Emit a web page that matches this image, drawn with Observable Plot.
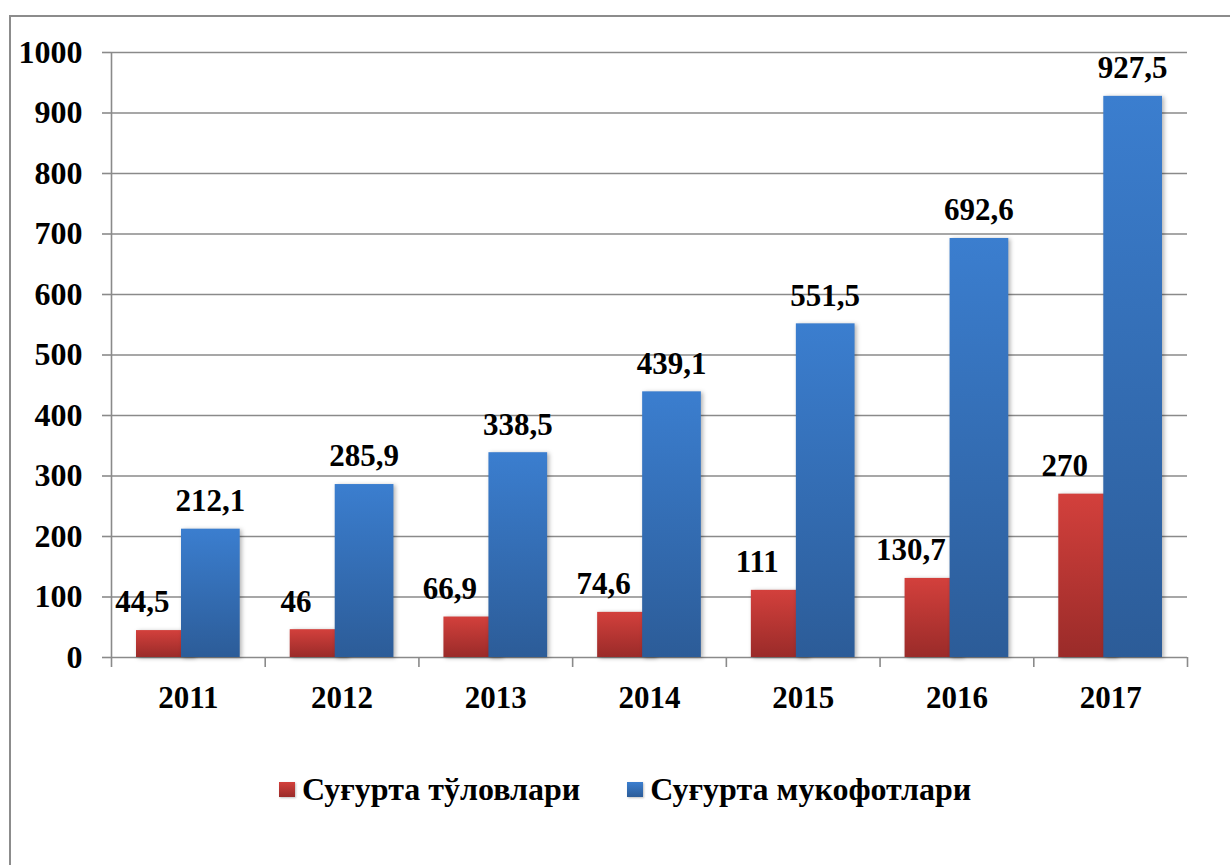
<!DOCTYPE html>
<html>
<head>
<meta charset="utf-8">
<script src="https://cdn.jsdelivr.net/npm/d3@7"></script>
<script src="https://cdn.jsdelivr.net/npm/@observablehq/plot@0.6"></script>
<style>
  html, body { margin: 0; padding: 0; background: #fff; overflow: hidden; width: 1230px; height: 865px; }
  #frame { position: absolute; left: 9px; top: 15px; width: 1300px; height: 900px; border: 2px solid #8c8c8c; box-sizing: border-box; }
  #chart { position: absolute; left: 0; top: 0; }
  #legend { position: absolute; left: 279px; top: 773px; display: flex; align-items: center; font-family: 'Liberation Serif', 'Times New Roman', serif; font-weight: bold; font-size: 32px; line-height: 32px; color: #000; }
  .item { display: flex; align-items: center; }
  .sw { width: 16px; height: 15px; margin-right: 7px; box-shadow: 1px 1px 2px rgba(0,0,0,0.25); }
  svg g[aria-label="bar"] rect { filter: drop-shadow(2px 1px 2px rgba(0,0,0,0.3)); }
</style>
</head>
<body>
<div id="frame"></div>
<div id="chart"></div>
<div id="legend"></div>
<script>
const years = ["2011", "2012", "2013", "2014", "2015", "2016", "2017"];
const payments = [44.5, 46, 66.9, 74.6, 111, 130.7, 270];
const premiums = [212.1, 285.9, 338.5, 439.1, 551.5, 692.6, 927.5];
const seriesNames = ["Суғурта тўловлари", "Суғурта мукофотлари"];
const yTicks = [0, 100, 200, 300, 400, 500, 600, 700, 800, 900, 1000];

const redData = years.map((y, i) => ({year: y, value: payments[i], series: seriesNames[0]}));
const blueData = years.map((y, i) => ({year: y, value: premiums[i], series: seriesNames[1]}));
const fmt = v => String(v).replace(".", ",");

const W = 1230, H = 730, mL = 111, mR = 43;
const bw = (W - mL - mR) / years.length;
const gridColor = "#8a8a8a";

const chart = Plot.plot({
  width: W, height: H,
  marginLeft: mL, marginRight: mR, marginTop: 52, marginBottom: 73,
  style: {fontFamily: "'Liberation Serif', 'Times New Roman', serif", fontWeight: "bold", fontSize: "32px", color: "#000", background: "transparent", overflow: "visible"},
  x: {domain: years, padding: 0, round: false, label: null},
  y: {domain: [0, 1000], label: null},
  marks: [
    Plot.gridY(yTicks, {stroke: gridColor, strokeOpacity: 1, strokeWidth: 1.6}),
    Plot.axisY(yTicks, {tickSize: 9, tickPadding: 20, stroke: gridColor, strokeWidth: 1.6, fontSize: 32, fontWeight: "bold", tickFormat: d => String(d)}),
    Plot.axisX({tickSize: 0, tickPadding: 28, fontSize: 31, fontWeight: "bold"}),
    Plot.ruleX([years[0]], {dx: -bw / 2, stroke: gridColor, strokeWidth: 1.6, insetBottom: -10}),
    Plot.ruleX(years, {dx: bw / 2, stroke: gridColor, strokeWidth: 1.6, insetTop: 605, insetBottom: -10}),
    Plot.barY(redData, {x: "year", y: "value", fill: "url(#gradRed)", insetLeft: 25, insetRight: 71}),
    Plot.barY(blueData, {x: "year", y: "value", fill: "url(#gradBlue)", insetLeft: 70, insetRight: 25}),
    Plot.text(redData, {x: "year", y: "value", text: d => fmt(d.value), dx: -46, dy: -28, fontSize: 31, fontWeight: "bold", fill: "#000"}),
    Plot.text(blueData, {x: "year", y: "value", text: d => fmt(d.value), dx: 22, dy: -28, fontSize: 31, fontWeight: "bold", fill: "#000"})
  ]
});

const defs = d3.select(chart).insert("defs", ":first-child");
function grad(id, top, bottom) {
  const g = defs.append("linearGradient").attr("id", id).attr("x1", 0).attr("y1", 0).attr("x2", 0).attr("y2", 1);
  g.append("stop").attr("offset", "0%").attr("stop-color", top);
  g.append("stop").attr("offset", "100%").attr("stop-color", bottom);
}
grad("gradRed", "#d3403c", "#9a2b29");
grad("gradBlue", "#3b7ecf", "#2c5c98");

document.getElementById("chart").appendChild(chart);

const legend = d3.select("#legend");
const legendColors = [["#d3403c", "#9a2b29"], ["#3b7ecf", "#2c5c98"]];
seriesNames.forEach((name, i) => {
  const it = legend.append("div").attr("class", "item").style("margin-right", i === 0 ? "47px" : "0px");
  it.append("div").attr("class", "sw").style("background", `linear-gradient(${legendColors[i][0]}, ${legendColors[i][1]})`);
  it.append("span").text(name);
});
</script>
</body>
</html>
